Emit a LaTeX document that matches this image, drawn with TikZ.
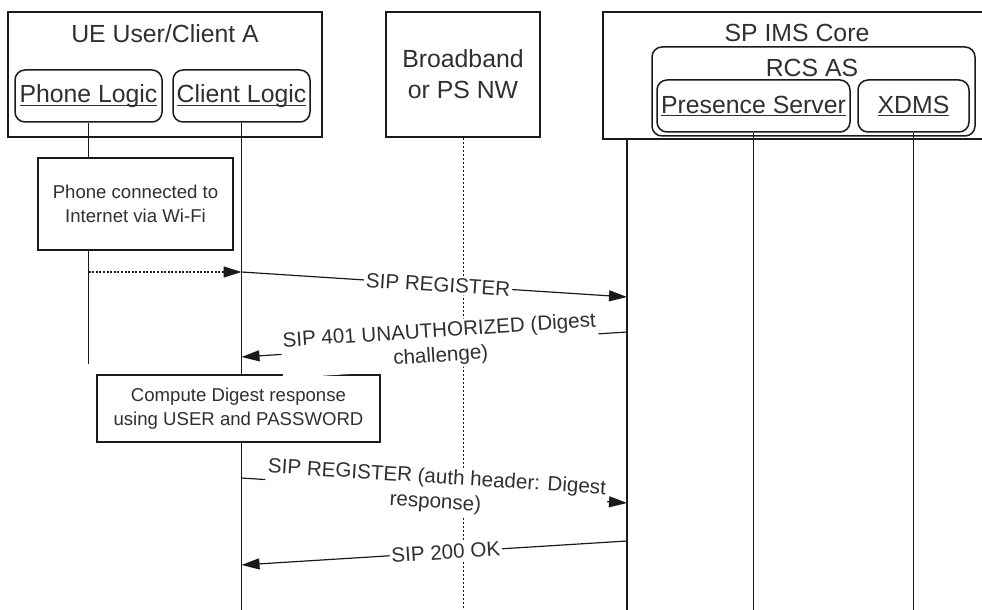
\documentclass[tikz,border=0pt]{standalone}
\usepackage{fontspec}
\setmainfont{Liberation Sans}
\usetikzlibrary{arrows.meta}
\definecolor{ln}{HTML}{1A1A1A}
\definecolor{txt}{HTML}{303030}
\newcommand\ulx[1]{\setbox0\hbox{#1}\rlap{\rule[-1.6pt]{\wd0}{0.55pt}}\box0}
\begin{document}
\begin{tikzpicture}[x=0.5pt,y=-0.5pt,
 frame/.style={draw=ln,line width=0.75pt,fill=white,inner sep=0pt},
 rbox/.style={frame,rounded corners=5pt},
 big/.style={text=txt,font=\fontsize{12.4}{15.5}\selectfont,align=center},
 note/.style={text=txt,font=\fontsize{9.3}{11.8}\selectfont,align=center},
 lbl/.style={text=txt,font=\fontsize{10.3}{12.4}\selectfont,align=center,fill=white,inner sep=1pt,sloped},
 life/.style={draw=ln,line width=0.6pt},
 bbline/.style={draw=ln,line width=0.5pt,dash pattern=on 1.2pt off 0.8pt},
 msg/.style={draw=ln,line width=0.6pt,-{Triangle[length=9pt,width=5.5pt]}},
]
\useasboundingbox (0,0) rectangle (982,610);

% header boxes
\node[frame,minimum width=157pt,minimum height=62.5pt] (ue) at (165,74.5) {};
\node[big] (uet) at (165,34) {UE User/Client A};
\node[rbox,big,minimum width=73.5pt,minimum height=26pt] (phone) at (88.5,96) {\ulx{Phone Logic}};
\node[rbox,big,minimum width=68.5pt,minimum height=26pt] (client) at (241.5,96) {\ulx{Client Logic}};

\node[frame,big,minimum width=77pt,minimum height=62.5pt] (bb) at (463,74.5) {Broadband\\or PS NW};

\draw[draw=ln,line width=0.75pt] (982,12) -- (603,12) -- (603,139) -- (982,139);
\coordinate (sp) at (627,139);
\node[big] (spt) at (797,33) {SP IMS Core};
\node[rbox,minimum width=161.5pt,minimum height=44.5pt] (rcs) at (813.5,91.5) {};
\node[big] (rcst) at (812,68) {RCS AS};
\node[rbox,big,minimum width=96.5pt,minimum height=26pt] (pres) at (753.5,106) {\ulx{Presence Server}};
\node[rbox,big,minimum width=55.5pt,minimum height=26pt] (xdms) at (913.5,106) {\ulx{XDMS}};

% lifeline ends
\coordinate (phoneEnd) at (88.5,364);
\coordinate (clientEnd) at (241.5,610);
\coordinate (bbEnd) at (463,610);
\coordinate (spEnd) at (627,610);
\coordinate (presEnd) at (753.5,610);
\coordinate (xdmsEnd) at (913.5,610);

\draw[life] (phone.south) -- (phoneEnd);
\draw[life] (client.south) -- (clientEnd);
\draw[bbline] (bb.south) -- (bbEnd);
\draw[life] (sp) -- (spEnd);
\draw[life] (pres.south) -- (presEnd);
\draw[life] (xdms.south) -- (xdmsEnd);

% notes
\node[frame,note,minimum width=97.5pt,minimum height=46pt] (wifi) at (135.5,204) {Phone connected to\\Internet via Wi-Fi};
\node[frame,note,minimum width=141.5pt,minimum height=33.5pt] (digest) at (238.5,408.5) {Compute Digest response\\using USER and PASSWORD};

% messages
\coordinate (m0a) at (88.5,272);
\coordinate (m0b) at (241.5,272);
\draw[msg,dash pattern=on 1pt off 0.8pt] (m0a) -- (m0b);

\coordinate (m1a) at (241.5,272);
\coordinate (m1b) at (627,297);
\draw[msg] (m1a) -- node[lbl,pos=0.51] (l1) {SIP REGISTER} (m1b);

\coordinate (m2a) at (627,332);
\coordinate (m2b) at (241.5,357);
\draw[msg] (m2a) -- node[lbl,pos=0.485] (l2) {SIP 401 UNAUTHORIZED (Digest\\challenge)} (m2b);

\coordinate (m3a) at (241.5,478);
\coordinate (m3b) at (627,503);
\draw[msg] (m3a) -- node[lbl,pos=0.505] (l3) {SIP REGISTER (auth header: Digest\\response)} (m3b);

\coordinate (m4a) at (627,541);
\coordinate (m4b) at (241.5,565);
\draw[msg] (m4a) -- node[lbl,pos=0.47] (l4) {SIP 200 OK} (m4b);
\end{tikzpicture}
\end{document}
